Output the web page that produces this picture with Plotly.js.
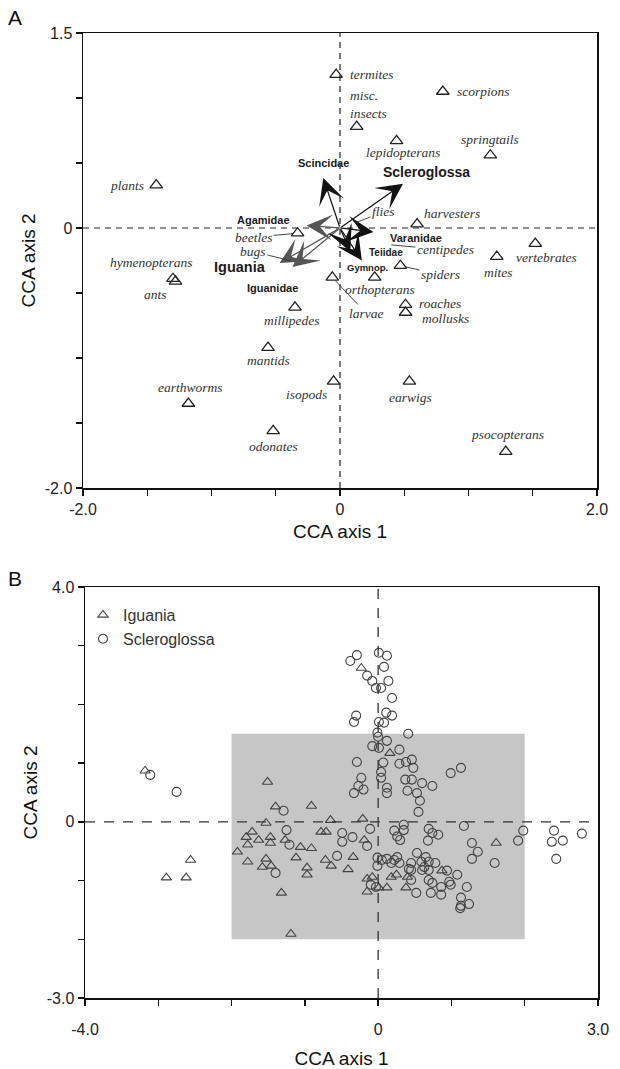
<!DOCTYPE html>
<html><head><meta charset="utf-8">
<script src="https://cdn.plot.ly/plotly-3.0.1.min.js"></script>
<style>html,body{margin:0;padding:0;background:#fff}</style>
</head><body><div id="chart" style="width:620px;height:1069px"></div>
<script>
// ---------- Panel A: prey categories (CCA scores) ----------
const preyNames = ['termites','scorpions','misc.<br>insects','lepidopterans','springtails','plants','harvesters','flies','beetles','bugs','hymenopterans','ants','larvae','orthopterans','centipedes','spiders','mites','vertebrates','millipedes','roaches','mollusks','mantids','isopods','earwigs','earthworms','odonates','psocopterans'];
const preyX = [-0.03, 0.80, 0.13, 0.44, 1.17, -1.43, 0.60, 0.12, -0.33, -0.39, -1.30, -1.28, -0.06, 0.27, 0.40, 0.47, 1.22, 1.52, -0.35, 0.51, 0.51, -0.56, -0.05, 0.54, -1.18, -0.52, 1.29];
const preyY = [1.18, 1.05, 0.78, 0.67, 0.56, 0.33, 0.03, 0.04, -0.04, -0.25, -0.39, -0.41, -0.38, -0.38, -0.13, -0.29, -0.22, -0.12, -0.61, -0.59, -0.65, -0.92, -1.18, -1.18, -1.35, -1.56, -1.72];

// ---------- Panel A: lizard clade vectors ----------
const cladeNames = ['Scincidae','Scleroglossa','Agamidae','Iguania','Iguanidae','Varanidae','Teiidae','Gymnop.'];
const cladeX = [-0.13, 0.49, -0.26, -0.47, -0.37, 0.26, 0.17, 0.08];
const cladeY = [0.385, 0.34, 0.02, -0.27, -0.30, -0.03, -0.25, -0.18];

// ---------- Panel B: species scores ----------
const iguaniaX = [-3.18,-1.51,-1.40,-0.91,-1.53,-0.65,-1.72,-1.80,-1.63,-1.47,-1.47,-1.27,-1.06,-0.91,-0.78,-0.71,-1.78,-1.92,-1.78,-1.53,-1.58,-1.46,-1.12,-0.72,-0.64,-0.97,-0.97,-1.32,-1.19,-2.56,-2.89,-2.62,-0.41,-0.23,0.16,-0.21,-0.19,-0.34,1.61,0.87,0.40,0.38,0.25,0.18,0.12,0.01,-0.15,-0.08,-0.15];
const iguaniaY = [0.87,0.68,0.26,0.27,-0.02,0.03,-0.17,-0.26,-0.31,-0.26,-0.36,-0.31,-0.43,-0.45,-0.17,-0.17,-0.39,-0.51,-0.68,-0.63,-0.77,-0.75,-0.61,-0.65,-0.75,-0.78,-0.90,-1.21,-1.91,-0.65,-0.95,-0.95,-0.81,2.62,1.17,0.05,-0.31,-0.60,-0.36,-0.83,-0.94,-1.12,-0.90,-0.94,-1.12,-1.12,-0.97,-0.94,-1.19];
const scleroX = [-3.11,-2.75,-1.29,-1.25,-1.21,-1.40,-0.49,-0.49,-0.56,
  -0.38,-0.29,0.01,0.12,0.08,-0.15,-0.08,-0.03,0.04,0.14,0.19,-0.30,-0.33,0.11,0.19,0.01,0.08,-0.01,0.00,0.41,0.12,-0.08,0.01,0.29,-0.29,0.07,0.29,0.38,0.46,0.48,0.04,0.04,1.13,0.99,-0.23,-0.27,-0.33,-0.20,0.12,0.12,0.37,0.46,0.60,0.74,0.40,0.53,
  0.57,0.55,-0.11,-0.35,-0.15,0.22,0.35,0.35,0.26,0.30,0.69,0.74,0.82,0.68,1.17,1.28,1.36,1.28,1.59,1.91,1.98,2.40,2.37,2.52,2.78,2.43,
  -0.01,0.05,0.12,0.22,0.26,0.29,-0.01,0.18,0.53,0.65,0.59,0.69,0.78,0.45,0.42,0.63,0.60,0.69,0.94,1.08,0.97,0.99,1.21,0.69,0.74,0.86,0.86,0.72,0.52,0.45,0.45,-0.10,-0.03,1.13,1.13,1.12,1.24];
const scleroY = [0.80,0.51,0.19,-0.14,-0.39,-0.87,-0.19,-0.34,-0.58,
  2.74,2.84,2.88,2.83,2.64,2.49,2.40,2.28,2.28,2.40,2.11,1.81,1.70,1.86,1.81,1.70,1.69,1.52,1.45,1.50,1.38,1.29,1.26,1.23,1.02,1.01,0.99,1.02,1.06,0.92,0.85,0.75,0.92,0.83,0.75,0.61,0.49,0.55,0.58,0.49,0.72,0.72,0.66,0.61,0.53,0.49,
  0.36,0.17,-0.12,-0.26,-0.41,-0.15,-0.05,-0.14,-0.25,-0.31,-0.12,-0.19,-0.22,-0.32,-0.07,-0.36,-0.51,-0.63,-0.70,-0.32,-0.15,-0.15,-0.34,-0.32,-0.20,-0.63,
  -0.61,-0.65,-0.63,-0.65,-0.60,-0.70,-0.75,-0.70,-0.53,-0.60,-0.68,-0.68,-0.70,-0.70,-0.80,-0.77,-0.82,-0.82,-0.83,-0.90,-1.02,-1.07,-1.11,-0.99,-1.04,-1.11,-1.24,-1.21,-1.21,-0.99,-0.82,-1.07,-1.11,-1.29,-1.43,-1.47,-1.40];
// shaded region in panel B = extent of panel A
const boxX = [-2, 2];
const boxY = [-2, 1.5];

// ---------- styling tables ----------
const SERIF = 'Liberation Serif, Times New Roman, serif';
const SANS = 'Liberation Sans, Arial, Helvetica, sans-serif';
// label placement: [xshift, yshift, xanchor] or {lead:[ax, ay]}
const preyLabelPos = {
  'termites':[12,0,'left'], 'scorpions':[12,0,'left'], 'misc.<br>insects':[-9,22,'left'],
  'lepidopterans':[6,-12,'center'], 'springtails':[0,16,'center'], 'plants':[-10,0,'right'],
  'harvesters':[5,11,'left'], 'flies':{lead:[28,-11]}, 'beetles':{lead:[-44,4]}, 'bugs':{lead:[-37,-9]},
  'hymenopterans':[-22,16,'center'], 'ants':[-20,-13,'center'], 'larvae':{lead:[34,36]},
  'orthopterans':[5,-12,'center'], 'centipedes':{lead:[54,5]}, 'spiders':{lead:[40,9]},
  'mites':[2,-16,'center'], 'vertebrates':[11,-14,'center'], 'millipedes':[-3,-13,'center'],
  'roaches':[11,1,'left'], 'mollusks':[14,-6,'left'], 'mantids':[0,-13,'center'],
  'isopods':[-27,-13,'center'], 'earwigs':[1,-16,'center'], 'earthworms':[2,16,'center'],
  'odonates':[0,-16,'center'], 'psocopterans':[2,17,'center']
};
const hiddenPrey = ['flies','bugs','centipedes'];
const cladeStyle = {
  'Scincidae':{c:'#111', s:11, dx:0, dy:15},
  'Scleroglossa':{c:'#111', s:14, dx:24, dy:12},
  'Agamidae':{c:'#555', s:11, dx:-43, dy:5},
  'Iguania':{c:'#555', s:14.5, dx:-40, dy:-4},
  'Iguanidae':{c:'#555', s:11, dx:-20, dy:-21},
  'Varanidae':{c:'#111', s:11, dx:43, dy:-6},
  'Teiidae':{c:'#111', s:10, dx:24, dy:8},
  'Gymnop.':{c:'#111', s:9.5, dx:17, dy:-16}
};

const traces = [
  {type:'scatter', mode:'markers', x:preyX, y:preyY, text:preyNames, xaxis:'x', yaxis:'y', showlegend:false,
   hoverinfo:'text',
   marker:{symbol:'triangle-up-open', size:11, color:'#222', line:{width:1.3},
           opacity: preyNames.map(n => hiddenPrey.includes(n) ? 0 : 1)}},
  {type:'scatter', mode:'markers', name:'Iguania', x:iguaniaX, y:iguaniaY, xaxis:'x2', yaxis:'y2',
   marker:{symbol:'triangle-up-open', size:9, color:'#444', line:{width:1.1}}},
  {type:'scatter', mode:'markers', name:'Scleroglossa', x:scleroX, y:scleroY, xaxis:'x2', yaxis:'y2',
   marker:{symbol:'circle-open', size:9, color:'#444', line:{width:1.1}}}
];

const annotations = [];
// clade arrows
cladeNames.forEach((n, i) => {
  const st = cladeStyle[n];
  annotations.push({x:cladeX[i], y:cladeY[i], xref:'x', yref:'y', ax:0, ay:0, axref:'x', ayref:'y',
    text:'', showarrow:true, arrowhead:3, arrowsize:3.6, arrowwidth:1.2, arrowcolor:st.c});
});
cladeNames.forEach((n, i) => {
  const st = cladeStyle[n];
  annotations.push({x:cladeX[i], y:cladeY[i], xref:'x', yref:'y', text:'<b>'+n+'</b>', showarrow:false,
    xshift:st.dx, yshift:st.dy, font:{family:SANS, size:st.s, color:'#1a1a1a'}});
});
// prey labels
preyNames.forEach((n, i) => {
  const p = preyLabelPos[n];
  const font = {family:SERIF, size:13.5, color:'#333'};
  if (p.lead) {
    annotations.push({x:preyX[i], y:preyY[i], xref:'x', yref:'y', text:'<i>'+n+'</i>', showarrow:true,
      arrowhead:0, arrowwidth:0.9, arrowcolor:'#333', ax:p.lead[0], ay:p.lead[1],
      standoff: hiddenPrey.includes(n) ? 0 : 5, font:font});
  } else {
    annotations.push({x:preyX[i], y:preyY[i], xref:'x', yref:'y', text:'<i>'+n+'</i>', showarrow:false,
      xshift:p[0], yshift:p[1], xanchor:p[2], align:'left', font:font});
  }
});
// panel letters and panel A x-axis title
const titleFont = {family:SANS, size:19, color:'#111'};
annotations.push({x:15/620, y:1-17/1069, xref:'paper', yref:'paper', text:'A', showarrow:false, xanchor:'center', yanchor:'middle', font:{family:SANS, size:21, color:'#111'}});
annotations.push({x:15/620, y:1-578/1069, xref:'paper', yref:'paper', text:'B', showarrow:false, xanchor:'center', yanchor:'middle', font:{family:SANS, size:21, color:'#111'}});
annotations.push({x:0.5, y:1-531/1069, xref:'x domain', yref:'paper', text:'CCA axis 1', showarrow:false, xanchor:'center', yanchor:'middle', font:titleFont});

const shapes = [
  {type:'rect', xref:'x2', yref:'y2', x0:boxX[0], x1:boxX[1], y0:boxY[0], y1:boxY[1], fillcolor:'#c6c6c6', line:{width:0}, layer:'below'},
  {type:'line', xref:'x domain', yref:'y', x0:0, x1:1, y0:0, y1:0, line:{color:'#222', width:1.2, dash:'6px,5px'}},
  {type:'line', xref:'x', yref:'y domain', x0:0, x1:0, y0:0, y1:1, line:{color:'#222', width:1.2, dash:'6px,5px'}},
  {type:'line', xref:'x2 domain', yref:'y2', x0:0, x1:1, y0:0, y1:0, line:{color:'#333', width:1.3, dash:'10px,9px'}},
  {type:'line', xref:'x2', yref:'y2 domain', x0:0, x1:0, y0:0, y1:1, line:{color:'#333', width:1.3, dash:'10px,9px'}}
];

const axBase = {showgrid:false, zeroline:false, showline:true, mirror:true, linecolor:'#111', linewidth:1.5,
  ticks:'outside', ticklen:6, tickwidth:1.3, tickcolor:'#111', tickfont:{family:SANS, size:16, color:'#222'}, fixedrange:true};

const layout = {
  width:620, height:1069, margin:{l:0, r:0, t:0, b:0}, paper_bgcolor:'#fff', plot_bgcolor:'rgba(0,0,0,0)',
  showlegend:true,
  legend:{x:83/620, y:1-598/1069, xanchor:'left', yanchor:'top', bgcolor:'rgba(0,0,0,0)', font:{family:SANS, size:16, color:'#333'}, itemsizing:'trace', itemwidth:30, tracegroupgap:0},
  xaxis:Object.assign({}, axBase, {domain:[83/620, 597/620], range:[-2,2], anchor:'y',
     tickvals:[-2,-1.5,-1,-0.5,0,0.5,1,1.5,2], ticktext:['-2.0','','','','0','','','','2.0']}),
  yaxis:Object.assign({}, axBase, {domain:[1-488/1069, 1-33/1069], range:[-2,1.5], anchor:'x',
     tickvals:[-2,-1.5,-1,-0.5,0,0.5,1,1.5], ticktext:['-2.0','','','','0','','','1.5'],
     title:{text:'CCA axis 2', font:titleFont}}),
  xaxis2:Object.assign({}, axBase, {domain:[85/620, 598/620], range:[-4,3], anchor:'y2', ticklabelstandoff:10,
     tickvals:[-4,-3,-2,-1,0,1,2,3], ticktext:['-4.0','','','','0','','','3.0'],
     title:{text:'CCA axis 1', font:titleFont}}),
  yaxis2:Object.assign({}, axBase, {domain:[1-998/1069, 1-587/1069], range:[-3,4], anchor:'x2',
     tickvals:[-3,-2,-1,0,1,2,3,4], ticktext:['-3.0','','','0','','','','4.0'],
     title:{text:'CCA axis 2', font:titleFont}}),
  annotations:annotations,
  shapes:shapes
};

Plotly.newPlot('chart', traces, layout, {displayModeBar:false, staticPlot:true});
</script>
</body></html>
